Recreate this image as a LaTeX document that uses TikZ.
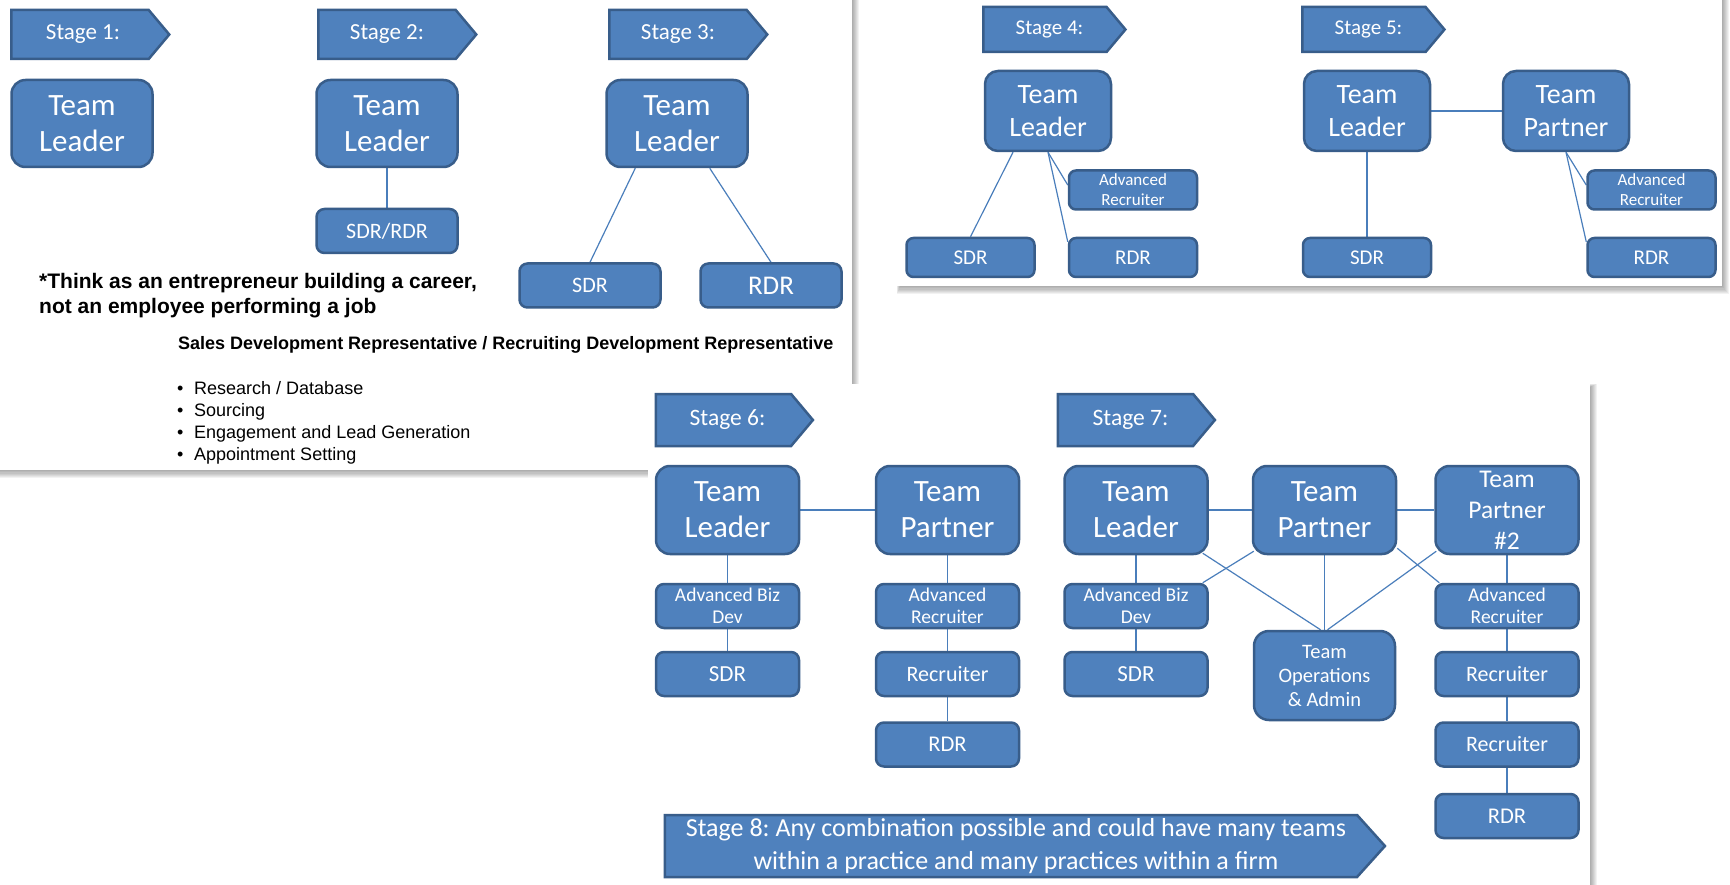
\documentclass[tikz,border=0pt]{standalone}
\usepackage{fontspec}
\setmainfont{Carlito}
\newfontfamily\arialfont{Liberation Sans}
\usetikzlibrary{shapes.symbols,calc}
\frenchspacing

\definecolor{boxfill}{HTML}{4F81BD}
\definecolor{boxedge}{HTML}{385D8A}
\definecolor{linkblue}{HTML}{4A7EBB}

\newcommand{\fsz}[2]{\fontsize{#1}{#2}\selectfont}
% white slide with a soft drop shadow
\newcommand{\paperpanel}[4]{%
  \foreach \k in {1,...,7}{%
    \fill[black,fill opacity=0.05] (#1+3-\k*0.5,#2+3-\k*0.5) rectangle (#3+\k,#4+\k*1.2);}
  \fill[white] (#1,#2) rectangle (#3,#4);}

\pgfdeclarelayer{paper}
\pgfdeclarelayer{wires}
\pgfsetlayers{paper,wires,main}

\begin{document}
\begin{tikzpicture}[x=1pt,y=-1pt,
  box/.style={draw=boxedge,fill=boxfill,line width=2.5pt,text=white,align=center,inner sep=0pt},
  stage/.style={signal,signal to=east,signal pointer angle=100,draw=boxedge,fill=boxfill,
                line width=2.5pt,text=white,inner sep=0pt},
  pAbig/.style={minimum width=141,minimum height=87,rounded corners=14,font=\fsz{31}{36}},
  pAsmall/.style={minimum width=141,minimum height=44,rounded corners=8},
  pBbig/.style={minimum width=126,minimum height=80,rounded corners=13,font=\fsz{28}{33}},
  pBsmall/.style={minimum width=128,minimum height=39,rounded corners=7},
  pCbig/.style={minimum width=143,minimum height=88,rounded corners=14,font=\fsz{31}{36}},
  pCsmall/.style={minimum width=143,minimum height=44,rounded corners=8},
  link/.style={draw=linkblue,line width=1.2pt},
  plain/.style={inner sep=0pt,text=black}]

\useasboundingbox (0,0) rectangle (1730,885);

\begin{pgfonlayer}{paper}
  \fill[white] (0,0) rectangle (1730,885);
  \paperpanel{-10}{-10}{852}{470}
  \paperpanel{897}{-10}{1722}{286}
  \paperpanel{648}{384}{1590}{895}
\end{pgfonlayer}

% ---------- Stages 1 to 3 ----------
\node[stage,minimum width=158,minimum height=49,font=\fsz{23}{27}] (st1) at (80,34.5) {\hspace*{6pt}Stage 1:};
\node[stage,minimum width=158,minimum height=49,font=\fsz{23}{27}] (st2) at (387,34.5) {Stage 2:};
\node[stage,minimum width=158,minimum height=49,font=\fsz{23}{27}] (st3) at (678,34.5) {Stage 3:};

\node[box,pAbig] (tl1) at (82,123.5) {Team\\Leader};
\node[box,pAbig] (tl2) at (387,123.5) {Team\\Leader};
\node[box,pAbig] (tl3) at (677,123.5) {Team\\Leader};

\node[box,pAsmall,font=\fsz{22}{26}] (sr2) at (387,231) {SDR/RDR};
\node[box,pAsmall,font=\fsz{22}{26}] (sdr3) at (590,285.5) {SDR};
\node[box,pAsmall,font=\fsz{27}{30}] (rdr3) at (771,285.5) {RDR};

\begin{pgfonlayer}{wires}
  \draw[link] (tl2) -- (sr2);
  \draw[link] ($(tl3.south west)+(30,0)$) -- (sdr3.north);
  \draw[link] ($(tl3.south east)+(-39,0)$) -- (rdr3.north);
\end{pgfonlayer}

\node[plain,anchor=base west,font=\arialfont\bfseries\fsz{21}{25}] (think1) at (39,289) {*Think as an entrepreneur building a career,};
\node[plain,anchor=base west,font=\arialfont\bfseries\fsz{21}{25}] (think2) at (39,314) {not an employee performing a job};
\node[plain,anchor=base west,font=\arialfont\bfseries\fsz{18}{22}] (sdrhead) at (178,350) {Sales Development Representative / Recruiting Development Representative};
\node[plain,anchor=base west,font=\arialfont\fsz{18}{22}] (task1) at (177,394) {\makebox[17pt][l]{•}Research / Database};
\node[plain,anchor=base west,font=\arialfont\fsz{18}{22}] (task2) at (177,416) {\makebox[17pt][l]{•}Sourcing};
\node[plain,anchor=base west,font=\arialfont\fsz{18}{22}] (task3) at (177,438) {\makebox[17pt][l]{•}Engagement and Lead Generation};
\node[plain,anchor=base west,font=\arialfont\fsz{18}{22}] (task4) at (177,460) {\makebox[17pt][l]{•}Appointment Setting};

% ---------- Stages 4 and 5 ----------
\node[stage,minimum width=142,minimum height=45,font=\fsz{21}{25}] (st4) at (1045,29.5) {\hspace*{9pt}Stage 4:};
\node[stage,minimum width=142,minimum height=45,font=\fsz{21}{25}] (st5) at (1364,29.5) {\hspace*{9pt}Stage 5:};

\node[box,pBbig] (tl4) at (1048,111) {Team\\Leader};
\node[box,pBsmall,font=\fsz{17}{20}] (ar4) at (1133,190) {Advanced\\Recruiter};
\node[box,pBsmall,font=\fsz{21}{25}] (sdr4) at (970.5,257.5) {SDR};
\node[box,pBsmall,font=\fsz{21}{25}] (rdr4) at (1133,257.5) {RDR};

\node[box,pBbig] (tl5) at (1367,111) {Team\\Leader};
\node[box,pBbig] (tp5) at (1566,111) {Team\\Partner};
\node[box,pBsmall,font=\fsz{21}{25}] (sdr5) at (1367,257.5) {SDR};
\node[box,pBsmall,font=\fsz{17}{20}] (ar5) at (1651.5,190) {Advanced\\Recruiter};
\node[box,pBsmall,font=\fsz{21}{25}] (rdr5) at (1651.5,257.5) {RDR};

\begin{pgfonlayer}{wires}
  \draw[link] ($(tl4.south)+(-35,0)$) -- (sdr4.north);
  \draw[link] (tl4.south) -- ($(ar4.west)+(0,-5)$);
  \draw[link] (tl4.south) -- ($(rdr4.north west)+(0,5)$);
  \draw[link] (tl5) -- (tp5);
  \draw[link] (tl5) -- (sdr5);
  \draw[link] (tp5.south) -- ($(ar5.west)+(0,-5)$);
  \draw[link] (tp5.south) -- ($(rdr5.north west)+(0,5)$);
\end{pgfonlayer}

% ---------- Stages 6 to 8 ----------
\node[stage,minimum width=157,minimum height=52,font=\fsz{23.5}{28}] (st6) at (723.5,420) {\hspace*{8pt}Stage 6:};
\node[stage,minimum width=157,minimum height=52,font=\fsz{23.5}{28}] (st7) at (1125.5,420) {\hspace*{10pt}Stage 7:};
\node[stage,signal pointer angle=96,minimum width=720,minimum height=62,align=center,font=\fsz{26}{33}] (st8) at (1011,846)
  {\hspace*{10pt}Stage 8: Any combination possible and could have many teams\\\hspace*{10pt}within a practice and many practices within a firm};

\node[box,pCbig] (tl6) at (727.5,510) {Team\\Leader};
\node[box,pCbig] (tp6) at (947.5,510) {Team\\Partner};
\node[box,pCsmall,font=\fsz{19.5}{22}] (abd6) at (727.5,606) {Advanced Biz\\Dev};
\node[box,pCsmall,font=\fsz{19.5}{22}] (ar6) at (947.5,606) {Advanced\\Recruiter};
\node[box,pCsmall,font=\fsz{23}{27}] (sdr6) at (727.5,674) {SDR};
\node[box,pCsmall,font=\fsz{22}{26}] (rec6) at (947.5,674) {Recruiter};
\node[box,pCsmall,font=\fsz{22.5}{26}] (rdr6) at (947.5,744.5) {RDR};

\node[box,pCbig] (tl7) at (1136,510) {Team\\Leader};
\node[box,pCbig] (tp7) at (1324.5,510) {Team\\Partner};
\node[box,pCbig,font=\fsz{25.5}{31}] (tp27) at (1507,510) {Team\\Partner\\\#2};
\node[box,pCsmall,font=\fsz{19.5}{22}] (abd7) at (1136,606) {Advanced Biz\\Dev};
\node[box,pCsmall,font=\fsz{23}{27}] (sdr7) at (1136,674) {SDR};
\node[box,minimum width=141,minimum height=89,rounded corners=15,font=\fsz{20.5}{24}] (ops7) at (1324.5,675.5) {Team\\Operations\\\& Admin};
\node[box,pCsmall,font=\fsz{19.5}{22}] (ar7) at (1507,606) {Advanced\\Recruiter};
\node[box,pCsmall,font=\fsz{22}{26}] (rec7a) at (1507,674) {Recruiter};
\node[box,pCsmall,font=\fsz{22}{26}] (rec7b) at (1507,744.5) {Recruiter};
\node[box,pCsmall,font=\fsz{22.5}{26}] (rdr7) at (1507,816) {RDR};

\begin{pgfonlayer}{wires}
  \draw[link] (tl6) -- (tp6);
  \draw[link] (tl6) -- (abd6) -- (sdr6);
  \draw[link] (tp6) -- (ar6) -- (rec6) -- (rdr6);
  \draw[link] (tl7) -- (tp7) -- (tp27);
  \draw[link] (tl7) -- (abd7) -- (sdr7);
  \draw[link] (tp27) -- (ar7) -- (rec7a) -- (rec7b) -- (rdr7);
  \draw[link] (tp7.south) -- (ops7.north);
  \draw[link] ($(tl7.south east)+(-6,-2)$) -- ($(ops7.north)+(-4,0)$);
  \draw[link] ($(tp7.south west)+(2,-4)$) -- ($(abd7.north east)+(-6,0)$);
  \draw[link] ($(tp27.south west)+(2,-4)$) -- ($(ops7.north)+(3,0)$);
  \draw[link] ($(tp7.south east)+(0,-7)$) -- ($(ar7.north west)+(5,0)$);
\end{pgfonlayer}

\end{tikzpicture}
\end{document}
